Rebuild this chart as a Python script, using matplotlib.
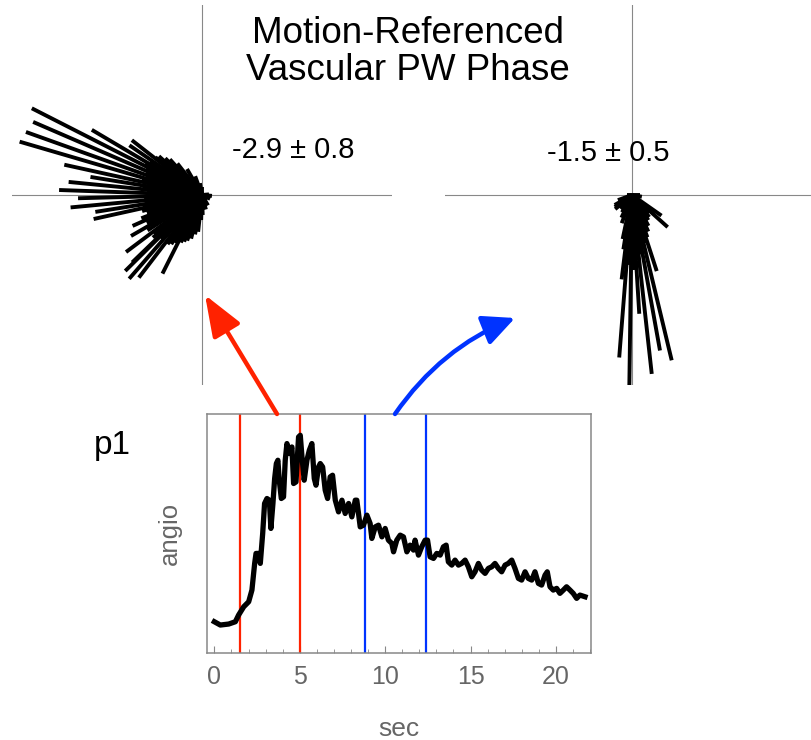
import numpy as np
import matplotlib
matplotlib.use("Agg")
from matplotlib import pyplot as plt

plt.rcParams['font.family'] = ['Liberation Sans', 'DejaVu Sans']

# rose of phases, left window (deg, length)
left_ang = [153, 156.6, 160.3, 163.7, 149.4, 142, 145.6, 167.6, 170.8, 174.4,
            178, 181.5, 185.4, 189, 192.5, 216.9, 224.7, 229, 232.6, 243.3, 224,
            204, 210,
            128, 132, 135, 138, 141, 147, 151, 155, 158, 162, 165, 169, 172, 176,
            180, 183, 187, 191, 195, 198, 201, 207, 213, 219, 221, 227, 235,
            238, 241, 246, 249, 252, 256, 260, 264, 268, 272,
            345, 355, 5, 335, 320, 300, 285, 110, 100, 90, 120]
left_len = [191, 184, 187, 190, 128, 89, 88, 141, 113, 134,
            143, 124, 132, 108, 111, 95, 108, 111, 104, 88, 97,
            76, 82,
            40, 48, 52, 58, 60, 62, 65, 62, 60, 58, 62, 55, 60, 55,
            50, 58, 55, 60, 62, 58, 65, 62, 65, 62, 65, 60, 60,
            58, 55, 52, 50, 48, 45, 40, 37, 25, 20,
            8, 10, 7, 9, 7, 12, 15, 20, 12, 8, 30]

# rose of phases, right window
right_ang = [269.2, 265.5, 276.3, 280.2, 283.5, 273.5, 263, 288, 318, 325, 215, 248,
             258, 261, 267, 271, 275, 278, 281, 286, 290, 294, 298, 303, 308, 312,
             250, 245, 240, 230, 220, 180, 0, 350, 200, 210]
right_len = [197, 163, 180, 158, 170, 119, 85, 80, 48, 36, 21, 24,
             45, 55, 70, 75, 65, 60, 55, 50, 45, 40, 35, 30, 28, 25,
             30, 25, 20, 18, 22, 5, 8, 10, 15, 20]

# angio curve
t = [0.00, 0.35, 0.84, 1.23, 1.42, 1.72, 2.01, 2.20, 2.36, 2.44, 2.59, 2.69,
     2.83, 2.94, 3.08, 3.22, 3.31, 3.43, 3.53, 3.63, 3.72, 3.80, 3.92, 4.05,
     4.15, 4.25, 4.39, 4.54, 4.64, 4.78, 4.93, 5.03, 5.13, 5.26, 5.42, 5.56,
     5.71, 5.85, 5.95, 6.10, 6.20, 6.34, 6.49, 6.63, 6.78, 6.92, 7.08, 7.27,
     7.47, 7.66, 7.86, 8.05, 8.25, 8.34, 8.54, 8.73, 8.93, 9.12, 9.22, 9.42,
     9.61, 9.81, 10.00, 10.19, 10.39, 10.49,
     10.68, 10.88, 11.07, 11.27, 11.46, 11.66, 11.75, 11.95, 12.14, 12.34, 12.48,
     12.63, 12.83, 13.02, 13.22, 13.41, 13.57, 13.70, 13.90, 14.09, 14.29, 14.48,
     14.68, 14.87, 15.07, 15.26, 15.46, 15.65, 15.85, 16.04, 16.24, 16.43, 16.63,
     16.82, 17.02, 17.21, 17.41, 17.60, 17.80, 17.99, 18.19, 18.38, 18.58, 18.77,
     18.97, 19.16, 19.36, 19.49, 19.65, 19.84, 20.04, 20.23, 20.43, 20.62, 20.82,
     21.01, 21.21, 21.40, 21.70]
angio = [31.3, 28, 29, 31.3, 38, 46.3, 51.3, 63, 89.7, 99.7, 99.7, 89.7,
         119.7, 149.7, 154.7, 153, 124.7, 149.7, 174.7, 189.7, 193, 173, 154.7, 156.3,
         193, 209.7, 199.7, 206.3, 169.7, 171.3, 216.3, 218, 196.3, 173, 193, 203,
         209.7, 174.7, 168, 186.3, 189.7, 186.3, 163, 154.7, 176.3, 178, 153, 141.3,
         153, 139.7, 149.7, 136.3, 153, 153, 126.3, 128, 138, 129.7, 114.7, 126.3,
         128, 116.3, 124.7, 113, 109.7, 101.3,
         113, 118, 116.3, 101.3, 108, 103, 113, 98, 106.3, 113, 113,
         96.3, 94.7, 99.7, 98, 106.3, 108, 91.3, 88, 93, 88, 89.7,
         93, 86.3, 76.3, 81.3, 89.7, 83, 79.7, 84.7, 86.3, 89.7, 84.7,
         81.3, 88, 89.7, 93, 84.7, 74.7, 73, 81.3, 74.7, 73, 81.3,
         69.7, 68, 78, 81.3, 66.3, 63, 64.7, 59.7, 63, 66.3, 63,
         59.7, 54.7, 58, 56.3]
red_t = [1.5, 5.0]
blue_t = [8.8, 12.4]
xticks = [0, 5, 10, 15, 20]

W, H = 811, 740
fig = plt.figure(figsize=(W / 100, H / 100), dpi=100)

def px(x0, y0, w, h):
    return [x0 / W, 1 - (y0 + h) / H, w / W, h / H]

def rose(rect, xl, ang, ln):
    ax = fig.add_axes(rect)
    ax.axhline(0, color='#888888', lw=0.8, zorder=1)
    ax.axvline(0, color='#888888', lw=0.8, zorder=1)
    a = np.radians(ang)
    ln = np.array(ln, dtype=float)
    for ai, li in zip(a, ln):
        ax.plot([0, li * np.cos(ai)], [0, li * np.sin(ai)], color='black',
                lw=2.8, solid_capstyle='butt', zorder=2)
    ax.set_xlim(-xl, xl)
    ax.set_ylim(-190, 190)
    ax.axis('off')
    return ax

rose(px(12, 5, 380, 380), 190, left_ang, left_len)
rose(px(445, 5, 374, 380), 187, right_ang, right_len)

fig.text(408 / W, 1 - 52 / H, "Motion-Referenced\nVascular PW Phase", ha='center',
         va='center', fontsize=26.5, linespacing=1.08)
fig.text(293 / W, 1 - 150 / H, "-2.9 ± 0.8", ha='center', va='center', fontsize=21)
fig.text(608 / W, 1 - 153 / H, "-1.5 ± 0.5", ha='center', va='center', fontsize=21)
fig.text(112 / W, 1 - 446 / H, "p1", ha='center', va='center', fontsize=24)

# time course
ax = fig.add_axes(px(207, 414, 384, 239))
ax.plot(t, angio, color='black', lw=3.8, zorder=3)
for v in red_t:
    ax.axvline(v, color='#ff2200', lw=1.6, zorder=2)
for v in blue_t:
    ax.axvline(v, color='#0033ff', lw=1.6, zorder=2)
ax.set_xlim(-0.43, 22.05)
ax.set_ylim(0, 239.3)
ax.set_xticks(xticks)
ax.set_xticks(np.arange(0, 23), minor=True)
ax.set_yticks([])
for s in ax.spines.values():
    s.set_color('#888888')
    s.set_linewidth(1.1)
ax.tick_params(axis='x', which='both', direction='in', colors='#888888',
               labelcolor='#666666', labelsize=18, pad=9)
ax.tick_params(axis='x', which='major', length=5)
ax.tick_params(axis='x', which='minor', length=3)
ax.set_xlabel("sec", fontsize=19, color='#666666', labelpad=20)
ax.set_ylabel("angio", fontsize=18.5, color='#666666', labelpad=18)

# arrows from windows to roses
ax.annotate("", xy=(205, H - 295), xytext=(277, H - 414),
            xycoords='figure pixels', textcoords='figure pixels',
            arrowprops=dict(arrowstyle="-|>,head_length=1.26,head_width=0.48",
                            color='#ff2200', lw=3.2, mutation_scale=20,
                            shrinkA=0, shrinkB=0), annotation_clip=False)
ax.annotate("", xy=(515, H - 318), xytext=(395, H - 414),
            xycoords='figure pixels', textcoords='figure pixels',
            arrowprops=dict(arrowstyle="-|>,head_length=0.97,head_width=0.46",
                            color='#0033ff', lw=3.2, mutation_scale=20,
                            connectionstyle="arc3,rad=-0.15",
                            shrinkA=0, shrinkB=0), annotation_clip=False)

fig.savefig("out.png", dpi=100)
